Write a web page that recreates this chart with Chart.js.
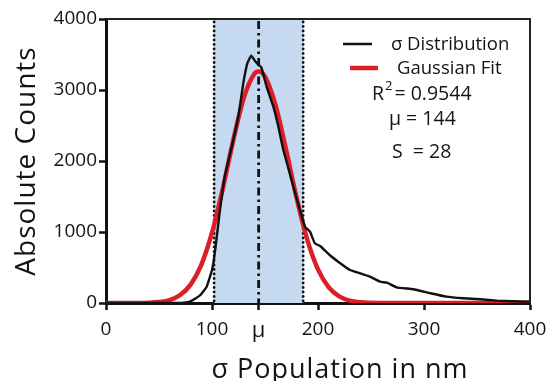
<!DOCTYPE html>
<html><head><meta charset="utf-8">
<script src="https://cdn.jsdelivr.net/npm/chart.js@4/dist/chart.umd.min.js"></script>
<style>html,body{margin:0;padding:0;background:#fff;}#wrap{width:550px;height:381px;}</style>
</head><body><div id="wrap"><canvas id="c" width="550" height="381"></canvas></div>
<script>
// ---- data ----
const distX = [0, 70, 73, 79, 84, 89, 95, 100, 103, 107.5, 112, 118.6, 124.8, 129.5, 133.3, 137, 141, 143.5, 146.5, 151.6, 157.9, 162.6, 167.3, 172, 176.7, 183, 187.7, 192.5, 197, 202, 211, 221, 230, 240, 249, 258.5, 265, 274, 290, 306, 321, 337, 353, 369, 384, 400];
const distY = [0, 0, 5, 20, 60, 113, 230, 465, 746, 1310, 1780, 2200, 2623, 3093, 3375, 3485, 3400, 3360, 3320, 3045, 2764, 2482, 2154, 1900, 1640, 1310, 1075, 1004, 840, 803, 676, 559, 465, 418, 371, 300, 286, 221, 193, 137, 89, 66, 52, 33, 24, 20];
const fitX = [0, 30, 40, 50, 60, 70, 80, 90, 100, 110, 120, 130, 140, 144, 150, 160, 170, 180, 190, 200, 210, 220, 230, 240, 250, 260, 400];
const fitY = [0, 1, 4, 14, 42, 112, 262, 541, 990, 1600, 2287, 2889, 3228, 3260, 3189, 2784, 2150, 1468, 886, 473, 223, 93, 34, 11, 3, 0, 0];
const xTickValues = [0, 100, 144, 200, 300, 400];
const xTickLabels = ['0', '100', 'μ', '200', '300', '400'];
const yTickValues = [0, 1000, 2000, 3000, 4000];
const bandRange = [102, 186];
const muValue = 144;
const seriesNames = ['σ Distribution', 'Gaussian Fit'];
const r2Text = '0.9544';
const muText = 'μ = 144';
const sText = 'S  = 28';
const xTitle = 'σ Population in nm';
const yTitle = 'Absolute Counts';

const FONT = '"Open Sans", "DejaVu Sans", sans-serif';
const BLACK = '#111111';
const TEXT = '#141414';
const RED = '#dc1f26';
const SHADE = '#c5d9f1';

const toPts = (xs, ys) => xs.map((x, i) => ({x: x, y: ys[i]}));

const decor = {
  id: 'decor',
  beforeDatasetsDraw(chart) {
    const {ctx, chartArea: a, scales: {x}} = chart;
    const x0 = x.getPixelForValue(bandRange[0]);
    const x1 = x.getPixelForValue(bandRange[1]);
    const xm = x.getPixelForValue(muValue);
    ctx.save();
    ctx.fillStyle = SHADE;
    ctx.fillRect(x0, a.top, x1 - x0, a.bottom - a.top);
    ctx.strokeStyle = BLACK;
    ctx.lineCap = 'round';
    ctx.lineWidth = 2.8;
    ctx.setLineDash([0.1, 4.4]);
    [x0, x1].forEach(px => {
      ctx.beginPath(); ctx.moveTo(px, a.top + 3); ctx.lineTo(px, a.bottom); ctx.stroke();
    });
    ctx.lineCap = 'butt';
    ctx.lineWidth = 2.8;
    ctx.setLineDash([8, 4, 2.5, 4]);
    ctx.beginPath(); ctx.moveTo(xm, a.top + 2); ctx.lineTo(xm, a.bottom); ctx.stroke();
    ctx.restore();
  },
  afterDraw(chart) {
    const {ctx, chartArea: a} = chart;
    ctx.save();
    // frame top/right
    ctx.strokeStyle = '#222';
    ctx.lineWidth = 2;
    ctx.beginPath();
    ctx.moveTo(a.left, a.top); ctx.lineTo(a.right, a.top); ctx.lineTo(a.right, a.bottom);
    ctx.stroke();
    // axis titles
    ctx.fillStyle = TEXT;
    ctx.textAlign = 'center';
    ctx.textBaseline = 'alphabetic';
    ctx.font = '27px ' + FONT;
    ctx.letterSpacing = '1px';
    ctx.fillText(xTitle, 340, 378);
    ctx.save();
    ctx.translate(35, (a.top + a.bottom) / 2);
    ctx.rotate(-Math.PI / 2);
    ctx.font = '28px ' + FONT;
    ctx.fillText(yTitle, 0, 0);
    ctx.restore();
    ctx.letterSpacing = '0px';
    // legend
    ctx.textAlign = 'left';
    ctx.textBaseline = 'middle';
    ctx.font = '18.5px ' + FONT;
    ctx.lineWidth = 2.5; ctx.strokeStyle = BLACK;
    ctx.beginPath(); ctx.moveTo(343, 44); ctx.lineTo(372, 44); ctx.stroke();
    ctx.fillText(seriesNames[0], 391, 45);
    ctx.lineWidth = 4.5; ctx.strokeStyle = RED;
    ctx.beginPath(); ctx.moveTo(350, 68); ctx.lineTo(378, 68); ctx.stroke();
    ctx.fillText(seriesNames[1], 397, 69);
    // stats
    ctx.font = '19.5px ' + FONT;
    let xx = 372;
    ctx.fillText('R', xx, 94); xx += ctx.measureText('R').width + 1;
    ctx.font = '13px ' + FONT;
    ctx.fillText('2', xx, 86); xx += ctx.measureText('2').width + 2;
    ctx.font = '19.5px ' + FONT;
    ctx.fillText('= ' + r2Text, xx, 94);
    ctx.fillText(muText, 389, 119);
    ctx.fillText(sText, 392, 152);
    ctx.restore();
  }
};

new Chart(document.getElementById('c'), {
  type: 'line',
  data: {
    datasets: [
      {label: seriesNames[0], data: toPts(distX, distY), borderColor: BLACK, borderWidth: 2.4, pointRadius: 0, tension: 0.1, fill: false},
      {label: seriesNames[1], data: toPts(fitX, fitY), borderColor: RED, borderWidth: 4.5, pointRadius: 0, cubicInterpolationMode: 'monotone', fill: false}
    ]
  },
  options: {
    responsive: false, animation: false, devicePixelRatio: 1,
    layout: {padding: {left: 0, right: 20, top: 19, bottom: 0}},
    plugins: {legend: {display: false}, tooltip: {enabled: false}},
    scales: {
      x: {
        type: 'linear', min: 0, max: 400,
        afterFit: s => { s.height = 78; s.paddingLeft = 0; s.paddingRight = 0; },
        afterBuildTicks: s => { s.ticks = xTickValues.map(v => ({value: v})); },
        ticks: {color: TEXT, padding: 8, maxRotation: 0, autoSkip: false,
          font: c => ({family: FONT, size: (c.tick && c.tick.value === muValue) ? 22 : 19}),
          callback: v => xTickLabels[xTickValues.indexOf(v)]},
        grid: {drawOnChartArea: false, drawTicks: true, tickLength: 7, tickWidth: 2.5, tickColor: BLACK},
        border: {display: true, color: BLACK, width: 3},
        title: {display: false}
      },
      y: {
        type: 'linear', min: 0, max: 4000,
        afterFit: s => { s.width = 106; s.paddingTop = 0; s.paddingBottom = 0; },
        afterBuildTicks: s => { s.ticks = yTickValues.map(v => ({value: v})); },
        ticks: {color: TEXT, font: {family: FONT, size: 19}, padding: 2, callback: v => String(v)},
        grid: {drawOnChartArea: false, drawTicks: true, tickLength: 7, tickWidth: 2.5, tickColor: BLACK},
        border: {display: true, color: BLACK, width: 3},
        title: {display: false}
      }
    }
  },
  plugins: [decor]
});
</script></body></html>
